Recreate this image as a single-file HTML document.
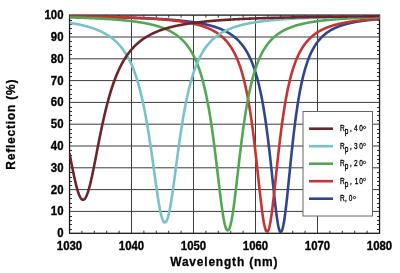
<!DOCTYPE html>
<html><head><meta charset="utf-8"><style>
html,body{margin:0;padding:0;background:#fff;width:400px;height:273px;overflow:hidden}
svg{display:block;will-change:transform}
.tk{font-family:"Liberation Sans",sans-serif;font-weight:bold;font-size:12.1px;fill:#000;stroke:#000;stroke-width:0.35px}
.ax{font-family:"Liberation Sans",sans-serif;font-weight:bold;font-size:13.3px;fill:#000;stroke:#000;stroke-width:0.3px;letter-spacing:0.9px}
.lg{font-family:"Liberation Sans",sans-serif;font-size:9.6px;fill:#000;stroke:#000;stroke-width:0.35px;letter-spacing:0px}
</style></head><body>
<svg width="400" height="273" viewBox="0 0 400 273">
<defs><clipPath id="clip"><rect x="69.5" y="12.2" width="310.6" height="221.0"/></clipPath></defs>
<line x1="69.5" y1="211.40" x2="379.5" y2="211.40" stroke="#3c3c3c" stroke-width="1.0"/>
<line x1="69.5" y1="189.60" x2="379.5" y2="189.60" stroke="#3c3c3c" stroke-width="1.0"/>
<line x1="69.5" y1="167.80" x2="379.5" y2="167.80" stroke="#3c3c3c" stroke-width="1.0"/>
<line x1="69.5" y1="146.00" x2="379.5" y2="146.00" stroke="#3c3c3c" stroke-width="1.0"/>
<line x1="69.5" y1="124.20" x2="379.5" y2="124.20" stroke="#3c3c3c" stroke-width="1.0"/>
<line x1="69.5" y1="102.40" x2="379.5" y2="102.40" stroke="#3c3c3c" stroke-width="1.0"/>
<line x1="69.5" y1="80.60" x2="379.5" y2="80.60" stroke="#3c3c3c" stroke-width="1.0"/>
<line x1="69.5" y1="58.80" x2="379.5" y2="58.80" stroke="#3c3c3c" stroke-width="1.0"/>
<line x1="69.5" y1="37.00" x2="379.5" y2="37.00" stroke="#3c3c3c" stroke-width="1.0"/>
<line x1="131.50" y1="15.2" x2="131.50" y2="233.2" stroke="#3c3c3c" stroke-width="1.0"/>
<line x1="193.50" y1="15.2" x2="193.50" y2="233.2" stroke="#3c3c3c" stroke-width="1.0"/>
<line x1="255.50" y1="15.2" x2="255.50" y2="233.2" stroke="#3c3c3c" stroke-width="1.0"/>
<line x1="317.50" y1="15.2" x2="317.50" y2="233.2" stroke="#3c3c3c" stroke-width="1.0"/>
<line x1="69.5" y1="229.50" x2="72.0" y2="229.50" stroke="#333" stroke-width="1"/>
<line x1="379.5" y1="229.50" x2="377.0" y2="229.50" stroke="#333" stroke-width="1"/>
<line x1="69.5" y1="224.50" x2="72.0" y2="224.50" stroke="#333" stroke-width="1"/>
<line x1="379.5" y1="224.50" x2="377.0" y2="224.50" stroke="#333" stroke-width="1"/>
<line x1="69.5" y1="220.50" x2="72.0" y2="220.50" stroke="#333" stroke-width="1"/>
<line x1="379.5" y1="220.50" x2="377.0" y2="220.50" stroke="#333" stroke-width="1"/>
<line x1="69.5" y1="216.50" x2="72.0" y2="216.50" stroke="#333" stroke-width="1"/>
<line x1="379.5" y1="216.50" x2="377.0" y2="216.50" stroke="#333" stroke-width="1"/>
<line x1="69.5" y1="207.50" x2="72.0" y2="207.50" stroke="#333" stroke-width="1"/>
<line x1="379.5" y1="207.50" x2="377.0" y2="207.50" stroke="#333" stroke-width="1"/>
<line x1="69.5" y1="203.50" x2="72.0" y2="203.50" stroke="#333" stroke-width="1"/>
<line x1="379.5" y1="203.50" x2="377.0" y2="203.50" stroke="#333" stroke-width="1"/>
<line x1="69.5" y1="198.50" x2="72.0" y2="198.50" stroke="#333" stroke-width="1"/>
<line x1="379.5" y1="198.50" x2="377.0" y2="198.50" stroke="#333" stroke-width="1"/>
<line x1="69.5" y1="194.50" x2="72.0" y2="194.50" stroke="#333" stroke-width="1"/>
<line x1="379.5" y1="194.50" x2="377.0" y2="194.50" stroke="#333" stroke-width="1"/>
<line x1="69.5" y1="185.50" x2="72.0" y2="185.50" stroke="#333" stroke-width="1"/>
<line x1="379.5" y1="185.50" x2="377.0" y2="185.50" stroke="#333" stroke-width="1"/>
<line x1="69.5" y1="181.50" x2="72.0" y2="181.50" stroke="#333" stroke-width="1"/>
<line x1="379.5" y1="181.50" x2="377.0" y2="181.50" stroke="#333" stroke-width="1"/>
<line x1="69.5" y1="177.50" x2="72.0" y2="177.50" stroke="#333" stroke-width="1"/>
<line x1="379.5" y1="177.50" x2="377.0" y2="177.50" stroke="#333" stroke-width="1"/>
<line x1="69.5" y1="172.50" x2="72.0" y2="172.50" stroke="#333" stroke-width="1"/>
<line x1="379.5" y1="172.50" x2="377.0" y2="172.50" stroke="#333" stroke-width="1"/>
<line x1="69.5" y1="163.50" x2="72.0" y2="163.50" stroke="#333" stroke-width="1"/>
<line x1="379.5" y1="163.50" x2="377.0" y2="163.50" stroke="#333" stroke-width="1"/>
<line x1="69.5" y1="159.50" x2="72.0" y2="159.50" stroke="#333" stroke-width="1"/>
<line x1="379.5" y1="159.50" x2="377.0" y2="159.50" stroke="#333" stroke-width="1"/>
<line x1="69.5" y1="155.50" x2="72.0" y2="155.50" stroke="#333" stroke-width="1"/>
<line x1="379.5" y1="155.50" x2="377.0" y2="155.50" stroke="#333" stroke-width="1"/>
<line x1="69.5" y1="150.50" x2="72.0" y2="150.50" stroke="#333" stroke-width="1"/>
<line x1="379.5" y1="150.50" x2="377.0" y2="150.50" stroke="#333" stroke-width="1"/>
<line x1="69.5" y1="142.50" x2="72.0" y2="142.50" stroke="#333" stroke-width="1"/>
<line x1="379.5" y1="142.50" x2="377.0" y2="142.50" stroke="#333" stroke-width="1"/>
<line x1="69.5" y1="137.50" x2="72.0" y2="137.50" stroke="#333" stroke-width="1"/>
<line x1="379.5" y1="137.50" x2="377.0" y2="137.50" stroke="#333" stroke-width="1"/>
<line x1="69.5" y1="133.50" x2="72.0" y2="133.50" stroke="#333" stroke-width="1"/>
<line x1="379.5" y1="133.50" x2="377.0" y2="133.50" stroke="#333" stroke-width="1"/>
<line x1="69.5" y1="129.50" x2="72.0" y2="129.50" stroke="#333" stroke-width="1"/>
<line x1="379.5" y1="129.50" x2="377.0" y2="129.50" stroke="#333" stroke-width="1"/>
<line x1="69.5" y1="120.50" x2="72.0" y2="120.50" stroke="#333" stroke-width="1"/>
<line x1="379.5" y1="120.50" x2="377.0" y2="120.50" stroke="#333" stroke-width="1"/>
<line x1="69.5" y1="115.50" x2="72.0" y2="115.50" stroke="#333" stroke-width="1"/>
<line x1="379.5" y1="115.50" x2="377.0" y2="115.50" stroke="#333" stroke-width="1"/>
<line x1="69.5" y1="111.50" x2="72.0" y2="111.50" stroke="#333" stroke-width="1"/>
<line x1="379.5" y1="111.50" x2="377.0" y2="111.50" stroke="#333" stroke-width="1"/>
<line x1="69.5" y1="107.50" x2="72.0" y2="107.50" stroke="#333" stroke-width="1"/>
<line x1="379.5" y1="107.50" x2="377.0" y2="107.50" stroke="#333" stroke-width="1"/>
<line x1="69.5" y1="98.50" x2="72.0" y2="98.50" stroke="#333" stroke-width="1"/>
<line x1="379.5" y1="98.50" x2="377.0" y2="98.50" stroke="#333" stroke-width="1"/>
<line x1="69.5" y1="94.50" x2="72.0" y2="94.50" stroke="#333" stroke-width="1"/>
<line x1="379.5" y1="94.50" x2="377.0" y2="94.50" stroke="#333" stroke-width="1"/>
<line x1="69.5" y1="89.50" x2="72.0" y2="89.50" stroke="#333" stroke-width="1"/>
<line x1="379.5" y1="89.50" x2="377.0" y2="89.50" stroke="#333" stroke-width="1"/>
<line x1="69.5" y1="85.50" x2="72.0" y2="85.50" stroke="#333" stroke-width="1"/>
<line x1="379.5" y1="85.50" x2="377.0" y2="85.50" stroke="#333" stroke-width="1"/>
<line x1="69.5" y1="76.50" x2="72.0" y2="76.50" stroke="#333" stroke-width="1"/>
<line x1="379.5" y1="76.50" x2="377.0" y2="76.50" stroke="#333" stroke-width="1"/>
<line x1="69.5" y1="72.50" x2="72.0" y2="72.50" stroke="#333" stroke-width="1"/>
<line x1="379.5" y1="72.50" x2="377.0" y2="72.50" stroke="#333" stroke-width="1"/>
<line x1="69.5" y1="68.50" x2="72.0" y2="68.50" stroke="#333" stroke-width="1"/>
<line x1="379.5" y1="68.50" x2="377.0" y2="68.50" stroke="#333" stroke-width="1"/>
<line x1="69.5" y1="63.50" x2="72.0" y2="63.50" stroke="#333" stroke-width="1"/>
<line x1="379.5" y1="63.50" x2="377.0" y2="63.50" stroke="#333" stroke-width="1"/>
<line x1="69.5" y1="54.50" x2="72.0" y2="54.50" stroke="#333" stroke-width="1"/>
<line x1="379.5" y1="54.50" x2="377.0" y2="54.50" stroke="#333" stroke-width="1"/>
<line x1="69.5" y1="50.50" x2="72.0" y2="50.50" stroke="#333" stroke-width="1"/>
<line x1="379.5" y1="50.50" x2="377.0" y2="50.50" stroke="#333" stroke-width="1"/>
<line x1="69.5" y1="46.50" x2="72.0" y2="46.50" stroke="#333" stroke-width="1"/>
<line x1="379.5" y1="46.50" x2="377.0" y2="46.50" stroke="#333" stroke-width="1"/>
<line x1="69.5" y1="41.50" x2="72.0" y2="41.50" stroke="#333" stroke-width="1"/>
<line x1="379.5" y1="41.50" x2="377.0" y2="41.50" stroke="#333" stroke-width="1"/>
<line x1="69.5" y1="33.50" x2="72.0" y2="33.50" stroke="#333" stroke-width="1"/>
<line x1="379.5" y1="33.50" x2="377.0" y2="33.50" stroke="#333" stroke-width="1"/>
<line x1="69.5" y1="28.50" x2="72.0" y2="28.50" stroke="#333" stroke-width="1"/>
<line x1="379.5" y1="28.50" x2="377.0" y2="28.50" stroke="#333" stroke-width="1"/>
<line x1="69.5" y1="24.50" x2="72.0" y2="24.50" stroke="#333" stroke-width="1"/>
<line x1="379.5" y1="24.50" x2="377.0" y2="24.50" stroke="#333" stroke-width="1"/>
<line x1="69.5" y1="20.50" x2="72.0" y2="20.50" stroke="#333" stroke-width="1"/>
<line x1="379.5" y1="20.50" x2="377.0" y2="20.50" stroke="#333" stroke-width="1"/>
<line x1="81.90" y1="233.2" x2="81.90" y2="230.7" stroke="#333" stroke-width="1"/>
<line x1="81.90" y1="15.2" x2="81.90" y2="17.7" stroke="#333" stroke-width="1"/>
<line x1="94.30" y1="233.2" x2="94.30" y2="230.7" stroke="#333" stroke-width="1"/>
<line x1="94.30" y1="15.2" x2="94.30" y2="17.7" stroke="#333" stroke-width="1"/>
<line x1="106.70" y1="233.2" x2="106.70" y2="230.7" stroke="#333" stroke-width="1"/>
<line x1="106.70" y1="15.2" x2="106.70" y2="17.7" stroke="#333" stroke-width="1"/>
<line x1="119.10" y1="233.2" x2="119.10" y2="230.7" stroke="#333" stroke-width="1"/>
<line x1="119.10" y1="15.2" x2="119.10" y2="17.7" stroke="#333" stroke-width="1"/>
<line x1="143.90" y1="233.2" x2="143.90" y2="230.7" stroke="#333" stroke-width="1"/>
<line x1="143.90" y1="15.2" x2="143.90" y2="17.7" stroke="#333" stroke-width="1"/>
<line x1="156.30" y1="233.2" x2="156.30" y2="230.7" stroke="#333" stroke-width="1"/>
<line x1="156.30" y1="15.2" x2="156.30" y2="17.7" stroke="#333" stroke-width="1"/>
<line x1="168.70" y1="233.2" x2="168.70" y2="230.7" stroke="#333" stroke-width="1"/>
<line x1="168.70" y1="15.2" x2="168.70" y2="17.7" stroke="#333" stroke-width="1"/>
<line x1="181.10" y1="233.2" x2="181.10" y2="230.7" stroke="#333" stroke-width="1"/>
<line x1="181.10" y1="15.2" x2="181.10" y2="17.7" stroke="#333" stroke-width="1"/>
<line x1="205.90" y1="233.2" x2="205.90" y2="230.7" stroke="#333" stroke-width="1"/>
<line x1="205.90" y1="15.2" x2="205.90" y2="17.7" stroke="#333" stroke-width="1"/>
<line x1="218.30" y1="233.2" x2="218.30" y2="230.7" stroke="#333" stroke-width="1"/>
<line x1="218.30" y1="15.2" x2="218.30" y2="17.7" stroke="#333" stroke-width="1"/>
<line x1="230.70" y1="233.2" x2="230.70" y2="230.7" stroke="#333" stroke-width="1"/>
<line x1="230.70" y1="15.2" x2="230.70" y2="17.7" stroke="#333" stroke-width="1"/>
<line x1="243.10" y1="233.2" x2="243.10" y2="230.7" stroke="#333" stroke-width="1"/>
<line x1="243.10" y1="15.2" x2="243.10" y2="17.7" stroke="#333" stroke-width="1"/>
<line x1="267.90" y1="233.2" x2="267.90" y2="230.7" stroke="#333" stroke-width="1"/>
<line x1="267.90" y1="15.2" x2="267.90" y2="17.7" stroke="#333" stroke-width="1"/>
<line x1="280.30" y1="233.2" x2="280.30" y2="230.7" stroke="#333" stroke-width="1"/>
<line x1="280.30" y1="15.2" x2="280.30" y2="17.7" stroke="#333" stroke-width="1"/>
<line x1="292.70" y1="233.2" x2="292.70" y2="230.7" stroke="#333" stroke-width="1"/>
<line x1="292.70" y1="15.2" x2="292.70" y2="17.7" stroke="#333" stroke-width="1"/>
<line x1="305.10" y1="233.2" x2="305.10" y2="230.7" stroke="#333" stroke-width="1"/>
<line x1="305.10" y1="15.2" x2="305.10" y2="17.7" stroke="#333" stroke-width="1"/>
<line x1="329.90" y1="233.2" x2="329.90" y2="230.7" stroke="#333" stroke-width="1"/>
<line x1="329.90" y1="15.2" x2="329.90" y2="17.7" stroke="#333" stroke-width="1"/>
<line x1="342.30" y1="233.2" x2="342.30" y2="230.7" stroke="#333" stroke-width="1"/>
<line x1="342.30" y1="15.2" x2="342.30" y2="17.7" stroke="#333" stroke-width="1"/>
<line x1="354.70" y1="233.2" x2="354.70" y2="230.7" stroke="#333" stroke-width="1"/>
<line x1="354.70" y1="15.2" x2="354.70" y2="17.7" stroke="#333" stroke-width="1"/>
<line x1="367.10" y1="233.2" x2="367.10" y2="230.7" stroke="#333" stroke-width="1"/>
<line x1="367.10" y1="15.2" x2="367.10" y2="17.7" stroke="#333" stroke-width="1"/>
<rect x="69.55" y="15.1" width="310.0" height="218.20000000000002" fill="none" stroke="#1a1a1a" stroke-width="1.3"/>
<g clip-path="url(#clip)"><path d="M69.50 16.52 L69.94 16.53 L70.39 16.53 L70.83 16.54 L71.27 16.54 L71.71 16.55 L72.16 16.55 L72.60 16.56 L73.04 16.57 L73.49 16.57 L73.93 16.58 L74.37 16.58 L74.81 16.59 L75.26 16.59 L75.70 16.60 L76.14 16.61 L76.59 16.61 L77.03 16.62 L77.47 16.62 L77.91 16.63 L78.36 16.63 L78.80 16.64 L79.24 16.65 L79.69 16.65 L80.13 16.66 L80.57 16.66 L81.01 16.67 L81.46 16.68 L81.90 16.68 L82.34 16.69 L82.79 16.70 L83.23 16.70 L83.67 16.71 L84.11 16.72 L84.56 16.72 L85.00 16.73 L85.44 16.74 L85.89 16.74 L86.33 16.75 L86.77 16.76 L87.21 16.76 L87.66 16.77 L88.10 16.78 L88.54 16.78 L88.99 16.79 L89.43 16.80 L89.87 16.80 L90.31 16.81 L90.76 16.82 L91.20 16.82 L91.64 16.83 L92.09 16.84 L92.53 16.85 L92.97 16.85 L93.41 16.86 L93.86 16.87 L94.30 16.88 L94.74 16.88 L95.19 16.89 L95.63 16.90 L96.07 16.91 L96.51 16.91 L96.96 16.92 L97.40 16.93 L97.84 16.94 L98.29 16.95 L98.73 16.95 L99.17 16.96 L99.61 16.97 L100.06 16.98 L100.50 16.99 L100.94 17.00 L101.39 17.00 L101.83 17.01 L102.27 17.02 L102.71 17.03 L103.16 17.04 L103.60 17.05 L104.04 17.06 L104.49 17.06 L104.93 17.07 L105.37 17.08 L105.81 17.09 L106.26 17.10 L106.70 17.11 L107.14 17.12 L107.59 17.13 L108.03 17.14 L108.47 17.15 L108.91 17.16 L109.36 17.17 L109.80 17.18 L110.24 17.19 L110.69 17.20 L111.13 17.21 L111.57 17.22 L112.01 17.23 L112.46 17.24 L112.90 17.25 L113.34 17.26 L113.79 17.27 L114.23 17.28 L114.67 17.29 L115.11 17.30 L115.56 17.31 L116.00 17.32 L116.44 17.33 L116.89 17.34 L117.33 17.35 L117.77 17.36 L118.21 17.37 L118.66 17.39 L119.10 17.40 L119.54 17.41 L119.99 17.42 L120.43 17.43 L120.87 17.44 L121.31 17.45 L121.76 17.47 L122.20 17.48 L122.64 17.49 L123.09 17.50 L123.53 17.51 L123.97 17.53 L124.41 17.54 L124.86 17.55 L125.30 17.57 L125.74 17.58 L126.19 17.59 L126.63 17.60 L127.07 17.62 L127.51 17.63 L127.96 17.64 L128.40 17.66 L128.84 17.67 L129.29 17.68 L129.73 17.70 L130.17 17.71 L130.61 17.73 L131.06 17.74 L131.50 17.75 L131.94 17.77 L132.39 17.78 L132.83 17.80 L133.27 17.81 L133.71 17.83 L134.16 17.84 L134.60 17.86 L135.04 17.87 L135.49 17.89 L135.93 17.90 L136.37 17.92 L136.81 17.94 L137.26 17.95 L137.70 17.97 L138.14 17.98 L138.59 18.00 L139.03 18.02 L139.47 18.03 L139.91 18.05 L140.36 18.07 L140.80 18.08 L141.24 18.10 L141.69 18.12 L142.13 18.14 L142.57 18.15 L143.01 18.17 L143.46 18.19 L143.90 18.21 L144.34 18.23 L144.79 18.25 L145.23 18.26 L145.67 18.28 L146.11 18.30 L146.56 18.32 L147.00 18.34 L147.44 18.36 L147.89 18.38 L148.33 18.40 L148.77 18.42 L149.21 18.44 L149.66 18.46 L150.10 18.48 L150.54 18.50 L150.99 18.53 L151.43 18.55 L151.87 18.57 L152.31 18.59 L152.76 18.61 L153.20 18.63 L153.64 18.66 L154.09 18.68 L154.53 18.70 L154.97 18.73 L155.41 18.75 L155.86 18.77 L156.30 18.80 L156.74 18.82 L157.19 18.85 L157.63 18.87 L158.07 18.90 L158.51 18.92 L158.96 18.95 L159.40 18.97 L159.84 19.00 L160.29 19.02 L160.73 19.05 L161.17 19.08 L161.61 19.10 L162.06 19.13 L162.50 19.16 L162.94 19.19 L163.39 19.22 L163.83 19.24 L164.27 19.27 L164.71 19.30 L165.16 19.33 L165.60 19.36 L166.04 19.39 L166.49 19.42 L166.93 19.45 L167.37 19.48 L167.81 19.52 L168.26 19.55 L168.70 19.58 L169.14 19.61 L169.59 19.65 L170.03 19.68 L170.47 19.71 L170.91 19.75 L171.36 19.78 L171.80 19.82 L172.24 19.85 L172.69 19.89 L173.13 19.92 L173.57 19.96 L174.01 20.00 L174.46 20.03 L174.90 20.07 L175.34 20.11 L175.79 20.15 L176.23 20.19 L176.67 20.23 L177.11 20.27 L177.56 20.31 L178.00 20.35 L178.44 20.39 L178.89 20.43 L179.33 20.48 L179.77 20.52 L180.21 20.56 L180.66 20.61 L181.10 20.65 L181.54 20.70 L181.99 20.74 L182.43 20.79 L182.87 20.84 L183.31 20.89 L183.76 20.93 L184.20 20.98 L184.64 21.03 L185.09 21.08 L185.53 21.14 L185.97 21.19 L186.41 21.24 L186.86 21.29 L187.30 21.35 L187.74 21.40 L188.19 21.46 L188.63 21.51 L189.07 21.57 L189.51 21.63 L189.96 21.68 L190.40 21.74 L190.84 21.80 L191.29 21.86 L191.73 21.93 L192.17 21.99 L192.61 22.05 L193.06 22.12 L193.50 22.18 L193.94 22.25 L194.39 22.31 L194.83 22.38 L195.27 22.45 L195.71 22.52 L196.16 22.59 L196.60 22.66 L197.04 22.74 L197.49 22.81 L197.93 22.89 L198.37 22.96 L198.81 23.04 L199.26 23.12 L199.70 23.20 L200.14 23.28 L200.59 23.36 L201.03 23.45 L201.47 23.53 L201.91 23.62 L202.36 23.70 L202.80 23.79 L203.24 23.88 L203.69 23.98 L204.13 24.07 L204.57 24.16 L205.01 24.26 L205.46 24.36 L205.90 24.46 L206.34 24.56 L206.79 24.66 L207.23 24.77 L207.67 24.87 L208.11 24.98 L208.56 25.09 L209.00 25.20 L209.44 25.31 L209.89 25.43 L210.33 25.55 L210.77 25.67 L211.21 25.79 L211.66 25.91 L212.10 26.04 L212.54 26.17 L212.99 26.30 L213.43 26.43 L213.87 26.57 L214.31 26.70 L214.76 26.84 L215.20 26.99 L215.64 27.13 L216.09 27.28 L216.53 27.43 L216.97 27.58 L217.41 27.74 L217.86 27.90 L218.30 28.06 L218.74 28.23 L219.19 28.40 L219.63 28.57 L220.07 28.75 L220.51 28.93 L220.96 29.11 L221.40 29.29 L221.84 29.48 L222.29 29.68 L222.73 29.88 L223.17 30.08 L223.61 30.28 L224.06 30.49 L224.50 30.71 L224.94 30.93 L225.39 31.15 L225.83 31.38 L226.27 31.61 L226.71 31.85 L227.16 32.10 L227.60 32.35 L228.04 32.60 L228.49 32.86 L228.93 33.13 L229.37 33.40 L229.81 33.68 L230.26 33.96 L230.70 34.25 L231.14 34.55 L231.59 34.86 L232.03 35.17 L232.47 35.49 L232.91 35.81 L233.36 36.15 L233.80 36.49 L234.24 36.84 L234.69 37.20 L235.13 37.57 L235.57 37.95 L236.01 38.34 L236.46 38.73 L236.90 39.14 L237.34 39.56 L237.79 39.99 L238.23 40.42 L238.67 40.87 L239.11 41.34 L239.56 41.81 L240.00 42.30 L240.44 42.80 L240.89 43.31 L241.33 43.84 L241.77 44.38 L242.21 44.94 L242.66 45.52 L243.10 46.10 L243.54 46.71 L243.99 47.33 L244.43 47.97 L244.87 48.63 L245.31 49.31 L245.76 50.01 L246.20 50.73 L246.64 51.47 L247.09 52.24 L247.53 53.02 L247.97 53.83 L248.41 54.67 L248.86 55.53 L249.30 56.42 L249.74 57.33 L250.19 58.28 L250.63 59.25 L251.07 60.26 L251.51 61.30 L251.96 62.37 L252.40 63.48 L252.84 64.62 L253.29 65.80 L253.73 67.02 L254.17 68.29 L254.61 69.59 L255.06 70.94 L255.50 72.33 L255.94 73.77 L256.39 75.27 L256.83 76.81 L257.27 78.40 L257.71 80.06 L258.16 81.76 L258.60 83.53 L259.04 85.36 L259.49 87.26 L259.93 89.22 L260.37 91.25 L260.81 93.35 L261.26 95.52 L261.70 97.77 L262.14 100.10 L262.59 102.50 L263.03 104.99 L263.47 107.57 L263.91 110.23 L264.36 112.98 L264.80 115.82 L265.24 118.75 L265.69 121.78 L266.13 124.90 L266.57 128.12 L267.01 131.43 L267.46 134.83 L267.90 138.33 L268.34 141.92 L268.79 145.60 L269.23 149.36 L269.67 153.21 L270.11 157.13 L270.56 161.12 L271.00 165.17 L271.44 169.27 L271.89 173.41 L272.33 177.58 L272.77 181.75 L273.21 185.92 L273.66 190.07 L274.10 194.17 L274.54 198.21 L274.99 202.15 L275.43 205.98 L275.87 209.66 L276.31 213.17 L276.76 216.47 L277.20 219.55 L277.64 222.35 L278.09 224.87 L278.53 227.06 L278.97 228.89 L279.41 230.34 L279.86 231.38 L280.30 231.98 L280.74 232.09 L281.19 231.83 L281.63 231.20 L282.07 230.21 L282.51 228.85 L282.96 227.13 L283.40 225.07 L283.84 222.67 L284.29 219.96 L284.73 216.95 L285.17 213.69 L285.61 210.18 L286.06 206.47 L286.50 202.57 L286.94 198.52 L287.39 194.35 L287.83 190.08 L288.27 185.74 L288.71 181.35 L289.16 176.93 L289.60 172.51 L290.04 168.11 L290.49 163.73 L290.93 159.40 L291.37 155.13 L291.81 150.92 L292.26 146.80 L292.70 142.76 L293.14 138.81 L293.59 134.97 L294.03 131.22 L294.47 127.57 L294.91 124.04 L295.36 120.61 L295.80 117.28 L296.24 114.07 L296.69 110.96 L297.13 107.95 L297.57 105.05 L298.01 102.25 L298.46 99.54 L298.90 96.94 L299.34 94.42 L299.79 92.00 L300.23 89.67 L300.67 87.42 L301.11 85.25 L301.56 83.16 L302.00 81.15 L302.44 79.22 L302.89 77.35 L303.33 75.56 L303.77 73.83 L304.21 72.16 L304.66 70.55 L305.10 69.01 L305.54 67.51 L305.99 66.08 L306.43 64.69 L306.87 63.36 L307.31 62.07 L307.76 60.83 L308.20 59.63 L308.64 58.47 L309.09 57.35 L309.53 56.28 L309.97 55.24 L310.41 54.23 L310.86 53.26 L311.30 52.32 L311.74 51.42 L312.19 50.54 L312.63 49.69 L313.07 48.87 L313.51 48.08 L313.96 47.32 L314.40 46.57 L314.84 45.85 L315.29 45.16 L315.73 44.48 L316.17 43.83 L316.61 43.20 L317.06 42.59 L317.50 41.99 L317.94 41.42 L318.39 40.86 L318.83 40.31 L319.27 39.79 L319.71 39.28 L320.16 38.78 L320.60 38.30 L321.04 37.83 L321.49 37.38 L321.93 36.94 L322.37 36.51 L322.81 36.09 L323.26 35.68 L323.70 35.29 L324.14 34.91 L324.59 34.53 L325.03 34.17 L325.47 33.82 L325.91 33.47 L326.36 33.14 L326.80 32.81 L327.24 32.49 L327.69 32.18 L328.13 31.88 L328.57 31.59 L329.01 31.30 L329.46 31.02 L329.90 30.75 L330.34 30.48 L330.79 30.22 L331.23 29.97 L331.67 29.72 L332.11 29.48 L332.56 29.24 L333.00 29.02 L333.44 28.79 L333.89 28.57 L334.33 28.36 L334.77 28.15 L335.21 27.94 L335.66 27.74 L336.10 27.55 L336.54 27.36 L336.99 27.17 L337.43 26.99 L337.87 26.81 L338.31 26.64 L338.76 26.47 L339.20 26.30 L339.64 26.13 L340.09 25.97 L340.53 25.82 L340.97 25.66 L341.41 25.51 L341.86 25.37 L342.30 25.22 L342.74 25.08 L343.19 24.94 L343.63 24.81 L344.07 24.68 L344.51 24.55 L344.96 24.42 L345.40 24.29 L345.84 24.17 L346.29 24.05 L346.73 23.93 L347.17 23.82 L347.61 23.71 L348.06 23.59 L348.50 23.48 L348.94 23.38 L349.39 23.27 L349.83 23.17 L350.27 23.07 L350.71 22.97 L351.16 22.87 L351.60 22.78 L352.04 22.68 L352.49 22.59 L352.93 22.50 L353.37 22.41 L353.81 22.32 L354.26 22.24 L354.70 22.15 L355.14 22.07 L355.59 21.99 L356.03 21.91 L356.47 21.83 L356.91 21.75 L357.36 21.68 L357.80 21.60 L358.24 21.53 L358.69 21.46 L359.13 21.39 L359.57 21.32 L360.01 21.25 L360.46 21.18 L360.90 21.11 L361.34 21.05 L361.79 20.98 L362.23 20.92 L362.67 20.86 L363.11 20.80 L363.56 20.74 L364.00 20.68 L364.44 20.62 L364.89 20.56 L365.33 20.51 L365.77 20.45 L366.21 20.39 L366.66 20.34 L367.10 20.29 L367.54 20.24 L367.99 20.18 L368.43 20.13 L368.87 20.08 L369.31 20.03 L369.76 19.98 L370.20 19.94 L370.64 19.89 L371.09 19.84 L371.53 19.80 L371.97 19.75 L372.41 19.71 L372.86 19.66 L373.30 19.62 L373.74 19.58 L374.19 19.54 L374.63 19.49 L375.07 19.45 L375.51 19.41 L375.96 19.37 L376.40 19.33 L376.84 19.30 L377.29 19.26 L377.73 19.22 L378.17 19.18 L378.61 19.15 L379.06 19.11 L379.50 19.07" fill="none" stroke="#2f458e" stroke-width="2.6" stroke-linejoin="round"/>
<path d="M69.50 16.39 L69.94 16.40 L70.39 16.40 L70.83 16.41 L71.27 16.41 L71.71 16.42 L72.16 16.42 L72.60 16.43 L73.04 16.44 L73.49 16.44 L73.93 16.45 L74.37 16.45 L74.81 16.46 L75.26 16.46 L75.70 16.47 L76.14 16.48 L76.59 16.48 L77.03 16.49 L77.47 16.49 L77.91 16.50 L78.36 16.51 L78.80 16.51 L79.24 16.52 L79.69 16.53 L80.13 16.53 L80.57 16.54 L81.01 16.54 L81.46 16.55 L81.90 16.56 L82.34 16.56 L82.79 16.57 L83.23 16.58 L83.67 16.58 L84.11 16.59 L84.56 16.60 L85.00 16.60 L85.44 16.61 L85.89 16.62 L86.33 16.62 L86.77 16.63 L87.21 16.64 L87.66 16.65 L88.10 16.65 L88.54 16.66 L88.99 16.67 L89.43 16.68 L89.87 16.68 L90.31 16.69 L90.76 16.70 L91.20 16.71 L91.64 16.71 L92.09 16.72 L92.53 16.73 L92.97 16.74 L93.41 16.74 L93.86 16.75 L94.30 16.76 L94.74 16.77 L95.19 16.78 L95.63 16.78 L96.07 16.79 L96.51 16.80 L96.96 16.81 L97.40 16.82 L97.84 16.83 L98.29 16.84 L98.73 16.84 L99.17 16.85 L99.61 16.86 L100.06 16.87 L100.50 16.88 L100.94 16.89 L101.39 16.90 L101.83 16.91 L102.27 16.92 L102.71 16.92 L103.16 16.93 L103.60 16.94 L104.04 16.95 L104.49 16.96 L104.93 16.97 L105.37 16.98 L105.81 16.99 L106.26 17.00 L106.70 17.01 L107.14 17.02 L107.59 17.03 L108.03 17.04 L108.47 17.05 L108.91 17.06 L109.36 17.07 L109.80 17.08 L110.24 17.10 L110.69 17.11 L111.13 17.12 L111.57 17.13 L112.01 17.14 L112.46 17.15 L112.90 17.16 L113.34 17.17 L113.79 17.18 L114.23 17.20 L114.67 17.21 L115.11 17.22 L115.56 17.23 L116.00 17.24 L116.44 17.26 L116.89 17.27 L117.33 17.28 L117.77 17.29 L118.21 17.30 L118.66 17.32 L119.10 17.33 L119.54 17.34 L119.99 17.36 L120.43 17.37 L120.87 17.38 L121.31 17.40 L121.76 17.41 L122.20 17.42 L122.64 17.44 L123.09 17.45 L123.53 17.46 L123.97 17.48 L124.41 17.49 L124.86 17.51 L125.30 17.52 L125.74 17.54 L126.19 17.55 L126.63 17.56 L127.07 17.58 L127.51 17.60 L127.96 17.61 L128.40 17.63 L128.84 17.64 L129.29 17.66 L129.73 17.67 L130.17 17.69 L130.61 17.71 L131.06 17.72 L131.50 17.74 L131.94 17.75 L132.39 17.77 L132.83 17.79 L133.27 17.81 L133.71 17.82 L134.16 17.84 L134.60 17.86 L135.04 17.88 L135.49 17.89 L135.93 17.91 L136.37 17.93 L136.81 17.95 L137.26 17.97 L137.70 17.99 L138.14 18.01 L138.59 18.03 L139.03 18.05 L139.47 18.07 L139.91 18.09 L140.36 18.11 L140.80 18.13 L141.24 18.15 L141.69 18.17 L142.13 18.19 L142.57 18.21 L143.01 18.23 L143.46 18.25 L143.90 18.27 L144.34 18.30 L144.79 18.32 L145.23 18.34 L145.67 18.36 L146.11 18.39 L146.56 18.41 L147.00 18.44 L147.44 18.46 L147.89 18.48 L148.33 18.51 L148.77 18.53 L149.21 18.56 L149.66 18.58 L150.10 18.61 L150.54 18.63 L150.99 18.66 L151.43 18.69 L151.87 18.71 L152.31 18.74 L152.76 18.77 L153.20 18.80 L153.64 18.82 L154.09 18.85 L154.53 18.88 L154.97 18.91 L155.41 18.94 L155.86 18.97 L156.30 19.00 L156.74 19.03 L157.19 19.06 L157.63 19.09 L158.07 19.12 L158.51 19.15 L158.96 19.19 L159.40 19.22 L159.84 19.25 L160.29 19.29 L160.73 19.32 L161.17 19.35 L161.61 19.39 L162.06 19.42 L162.50 19.46 L162.94 19.50 L163.39 19.53 L163.83 19.57 L164.27 19.61 L164.71 19.64 L165.16 19.68 L165.60 19.72 L166.04 19.76 L166.49 19.80 L166.93 19.84 L167.37 19.88 L167.81 19.92 L168.26 19.97 L168.70 20.01 L169.14 20.05 L169.59 20.10 L170.03 20.14 L170.47 20.18 L170.91 20.23 L171.36 20.28 L171.80 20.32 L172.24 20.37 L172.69 20.42 L173.13 20.47 L173.57 20.52 L174.01 20.57 L174.46 20.62 L174.90 20.67 L175.34 20.72 L175.79 20.77 L176.23 20.83 L176.67 20.88 L177.11 20.94 L177.56 20.99 L178.00 21.05 L178.44 21.11 L178.89 21.17 L179.33 21.23 L179.77 21.29 L180.21 21.35 L180.66 21.41 L181.10 21.47 L181.54 21.54 L181.99 21.60 L182.43 21.67 L182.87 21.74 L183.31 21.80 L183.76 21.87 L184.20 21.94 L184.64 22.01 L185.09 22.09 L185.53 22.16 L185.97 22.24 L186.41 22.31 L186.86 22.39 L187.30 22.47 L187.74 22.55 L188.19 22.63 L188.63 22.71 L189.07 22.79 L189.51 22.88 L189.96 22.96 L190.40 23.05 L190.84 23.14 L191.29 23.23 L191.73 23.32 L192.17 23.42 L192.61 23.51 L193.06 23.61 L193.50 23.71 L193.94 23.81 L194.39 23.91 L194.83 24.02 L195.27 24.12 L195.71 24.23 L196.16 24.34 L196.60 24.45 L197.04 24.56 L197.49 24.68 L197.93 24.80 L198.37 24.92 L198.81 25.04 L199.26 25.17 L199.70 25.29 L200.14 25.42 L200.59 25.55 L201.03 25.69 L201.47 25.82 L201.91 25.96 L202.36 26.11 L202.80 26.25 L203.24 26.40 L203.69 26.55 L204.13 26.70 L204.57 26.86 L205.01 27.02 L205.46 27.18 L205.90 27.35 L206.34 27.52 L206.79 27.69 L207.23 27.87 L207.67 28.05 L208.11 28.23 L208.56 28.42 L209.00 28.62 L209.44 28.81 L209.89 29.01 L210.33 29.22 L210.77 29.43 L211.21 29.64 L211.66 29.86 L212.10 30.08 L212.54 30.31 L212.99 30.55 L213.43 30.78 L213.87 31.03 L214.31 31.28 L214.76 31.53 L215.20 31.80 L215.64 32.06 L216.09 32.34 L216.53 32.62 L216.97 32.91 L217.41 33.20 L217.86 33.50 L218.30 33.81 L218.74 34.13 L219.19 34.45 L219.63 34.79 L220.07 35.13 L220.51 35.48 L220.96 35.84 L221.40 36.20 L221.84 36.58 L222.29 36.97 L222.73 37.36 L223.17 37.77 L223.61 38.19 L224.06 38.62 L224.50 39.06 L224.94 39.51 L225.39 39.98 L225.83 40.46 L226.27 40.95 L226.71 41.46 L227.16 41.98 L227.60 42.51 L228.04 43.06 L228.49 43.63 L228.93 44.21 L229.37 44.81 L229.81 45.42 L230.26 46.06 L230.70 46.71 L231.14 47.39 L231.59 48.08 L232.03 48.80 L232.47 49.53 L232.91 50.29 L233.36 51.08 L233.80 51.88 L234.24 52.72 L234.69 53.58 L235.13 54.47 L235.57 55.38 L236.01 56.33 L236.46 57.31 L236.90 58.32 L237.34 59.36 L237.79 60.44 L238.23 61.55 L238.67 62.70 L239.11 63.89 L239.56 65.12 L240.00 66.39 L240.44 67.71 L240.89 69.07 L241.33 70.48 L241.77 71.94 L242.21 73.45 L242.66 75.01 L243.10 76.63 L243.54 78.30 L243.99 80.03 L244.43 81.83 L244.87 83.68 L245.31 85.61 L245.76 87.60 L246.20 89.66 L246.64 91.79 L247.09 94.00 L247.53 96.29 L247.97 98.65 L248.41 101.10 L248.86 103.63 L249.30 106.24 L249.74 108.95 L250.19 111.74 L250.63 114.62 L251.07 117.59 L251.51 120.66 L251.96 123.82 L252.40 127.07 L252.84 130.42 L253.29 133.86 L253.73 137.38 L254.17 141.00 L254.61 144.70 L255.06 148.47 L255.50 152.33 L255.94 156.25 L256.39 160.23 L256.83 164.26 L257.27 168.33 L257.71 172.44 L258.16 176.56 L258.60 180.68 L259.04 184.78 L259.49 188.85 L259.93 192.87 L260.37 196.81 L260.81 200.66 L261.26 204.39 L261.70 207.98 L262.14 211.39 L262.59 214.62 L263.03 217.63 L263.47 220.40 L263.91 222.91 L264.36 225.13 L264.80 227.05 L265.24 228.65 L265.69 229.92 L266.13 230.85 L266.57 231.43 L267.01 231.67 L267.46 231.56 L267.90 231.10 L268.34 230.28 L268.79 229.10 L269.23 227.57 L269.67 225.72 L270.11 223.54 L270.56 221.07 L271.00 218.33 L271.44 215.33 L271.89 212.10 L272.33 208.67 L272.77 205.06 L273.21 201.30 L273.66 197.42 L274.10 193.43 L274.54 189.36 L274.99 185.24 L275.43 181.08 L275.87 176.91 L276.31 172.73 L276.76 168.57 L277.20 164.44 L277.64 160.35 L278.09 156.31 L278.53 152.34 L278.97 148.44 L279.41 144.61 L279.86 140.87 L280.30 137.21 L280.74 133.64 L281.19 130.16 L281.63 126.78 L282.07 123.50 L282.51 120.30 L282.96 117.21 L283.40 114.21 L283.84 111.30 L284.29 108.49 L284.73 105.77 L285.17 103.14 L285.61 100.59 L286.06 98.13 L286.50 95.75 L286.94 93.46 L287.39 91.24 L287.83 89.10 L288.27 87.03 L288.71 85.04 L289.16 83.11 L289.60 81.25 L290.04 79.45 L290.49 77.72 L290.93 76.05 L291.37 74.43 L291.81 72.87 L292.26 71.36 L292.70 69.91 L293.14 68.50 L293.59 67.14 L294.03 65.83 L294.47 64.56 L294.91 63.33 L295.36 62.15 L295.80 61.00 L296.24 59.89 L296.69 58.82 L297.13 57.78 L297.57 56.78 L298.01 55.81 L298.46 54.87 L298.90 53.96 L299.34 53.07 L299.79 52.22 L300.23 51.39 L300.67 50.59 L301.11 49.81 L301.56 49.06 L302.00 48.33 L302.44 47.62 L302.89 46.93 L303.33 46.26 L303.77 45.61 L304.21 44.98 L304.66 44.37 L305.10 43.78 L305.54 43.20 L305.99 42.64 L306.43 42.10 L306.87 41.57 L307.31 41.05 L307.76 40.55 L308.20 40.07 L308.64 39.59 L309.09 39.13 L309.53 38.69 L309.97 38.25 L310.41 37.82 L310.86 37.41 L311.30 37.01 L311.74 36.62 L312.19 36.23 L312.63 35.86 L313.07 35.50 L313.51 35.14 L313.96 34.80 L314.40 34.46 L314.84 34.13 L315.29 33.81 L315.73 33.50 L316.17 33.20 L316.61 32.90 L317.06 32.61 L317.50 32.32 L317.94 32.05 L318.39 31.78 L318.83 31.51 L319.27 31.25 L319.71 31.00 L320.16 30.76 L320.60 30.51 L321.04 30.28 L321.49 30.05 L321.93 29.82 L322.37 29.60 L322.81 29.39 L323.26 29.18 L323.70 28.97 L324.14 28.77 L324.59 28.57 L325.03 28.38 L325.47 28.19 L325.91 28.00 L326.36 27.82 L326.80 27.64 L327.24 27.47 L327.69 27.30 L328.13 27.13 L328.57 26.97 L329.01 26.81 L329.46 26.65 L329.90 26.49 L330.34 26.34 L330.79 26.20 L331.23 26.05 L331.67 25.91 L332.11 25.77 L332.56 25.63 L333.00 25.50 L333.44 25.36 L333.89 25.23 L334.33 25.11 L334.77 24.98 L335.21 24.86 L335.66 24.74 L336.10 24.62 L336.54 24.51 L336.99 24.39 L337.43 24.28 L337.87 24.17 L338.31 24.06 L338.76 23.96 L339.20 23.85 L339.64 23.75 L340.09 23.65 L340.53 23.55 L340.97 23.45 L341.41 23.36 L341.86 23.26 L342.30 23.17 L342.74 23.08 L343.19 22.99 L343.63 22.90 L344.07 22.82 L344.51 22.73 L344.96 22.65 L345.40 22.57 L345.84 22.49 L346.29 22.41 L346.73 22.33 L347.17 22.25 L347.61 22.18 L348.06 22.10 L348.50 22.03 L348.94 21.96 L349.39 21.88 L349.83 21.81 L350.27 21.75 L350.71 21.68 L351.16 21.61 L351.60 21.55 L352.04 21.48 L352.49 21.42 L352.93 21.35 L353.37 21.29 L353.81 21.23 L354.26 21.17 L354.70 21.11 L355.14 21.05 L355.59 21.00 L356.03 20.94 L356.47 20.88 L356.91 20.83 L357.36 20.77 L357.80 20.72 L358.24 20.67 L358.69 20.62 L359.13 20.56 L359.57 20.51 L360.01 20.46 L360.46 20.41 L360.90 20.37 L361.34 20.32 L361.79 20.27 L362.23 20.22 L362.67 20.18 L363.11 20.13 L363.56 20.09 L364.00 20.04 L364.44 20.00 L364.89 19.96 L365.33 19.92 L365.77 19.87 L366.21 19.83 L366.66 19.79 L367.10 19.75 L367.54 19.71 L367.99 19.67 L368.43 19.63 L368.87 19.60 L369.31 19.56 L369.76 19.52 L370.20 19.48 L370.64 19.45 L371.09 19.41 L371.53 19.38 L371.97 19.34 L372.41 19.31 L372.86 19.27 L373.30 19.24 L373.74 19.21 L374.19 19.17 L374.63 19.14 L375.07 19.11 L375.51 19.08 L375.96 19.05 L376.40 19.02 L376.84 18.99 L377.29 18.95 L377.73 18.93 L378.17 18.90 L378.61 18.87 L379.06 18.84 L379.50 18.81" fill="none" stroke="#c83232" stroke-width="2.6" stroke-linejoin="round"/>
<path d="M69.50 17.40 L69.94 17.41 L70.39 17.43 L70.83 17.44 L71.27 17.45 L71.71 17.46 L72.16 17.48 L72.60 17.49 L73.04 17.50 L73.49 17.52 L73.93 17.53 L74.37 17.54 L74.81 17.56 L75.26 17.57 L75.70 17.58 L76.14 17.60 L76.59 17.61 L77.03 17.63 L77.47 17.64 L77.91 17.66 L78.36 17.67 L78.80 17.69 L79.24 17.70 L79.69 17.71 L80.13 17.73 L80.57 17.75 L81.01 17.76 L81.46 17.78 L81.90 17.79 L82.34 17.81 L82.79 17.82 L83.23 17.84 L83.67 17.86 L84.11 17.87 L84.56 17.89 L85.00 17.91 L85.44 17.92 L85.89 17.94 L86.33 17.96 L86.77 17.97 L87.21 17.99 L87.66 18.01 L88.10 18.03 L88.54 18.05 L88.99 18.06 L89.43 18.08 L89.87 18.10 L90.31 18.12 L90.76 18.14 L91.20 18.16 L91.64 18.18 L92.09 18.20 L92.53 18.22 L92.97 18.24 L93.41 18.26 L93.86 18.28 L94.30 18.30 L94.74 18.32 L95.19 18.34 L95.63 18.36 L96.07 18.38 L96.51 18.40 L96.96 18.42 L97.40 18.45 L97.84 18.47 L98.29 18.49 L98.73 18.51 L99.17 18.54 L99.61 18.56 L100.06 18.58 L100.50 18.61 L100.94 18.63 L101.39 18.65 L101.83 18.68 L102.27 18.70 L102.71 18.73 L103.16 18.75 L103.60 18.78 L104.04 18.80 L104.49 18.83 L104.93 18.86 L105.37 18.88 L105.81 18.91 L106.26 18.94 L106.70 18.96 L107.14 18.99 L107.59 19.02 L108.03 19.05 L108.47 19.07 L108.91 19.10 L109.36 19.13 L109.80 19.16 L110.24 19.19 L110.69 19.22 L111.13 19.25 L111.57 19.28 L112.01 19.31 L112.46 19.35 L112.90 19.38 L113.34 19.41 L113.79 19.44 L114.23 19.48 L114.67 19.51 L115.11 19.54 L115.56 19.58 L116.00 19.61 L116.44 19.65 L116.89 19.68 L117.33 19.72 L117.77 19.75 L118.21 19.79 L118.66 19.83 L119.10 19.86 L119.54 19.90 L119.99 19.94 L120.43 19.98 L120.87 20.02 L121.31 20.06 L121.76 20.10 L122.20 20.14 L122.64 20.18 L123.09 20.22 L123.53 20.27 L123.97 20.31 L124.41 20.35 L124.86 20.40 L125.30 20.44 L125.74 20.49 L126.19 20.53 L126.63 20.58 L127.07 20.63 L127.51 20.67 L127.96 20.72 L128.40 20.77 L128.84 20.82 L129.29 20.87 L129.73 20.92 L130.17 20.97 L130.61 21.02 L131.06 21.08 L131.50 21.13 L131.94 21.18 L132.39 21.24 L132.83 21.29 L133.27 21.35 L133.71 21.41 L134.16 21.47 L134.60 21.52 L135.04 21.58 L135.49 21.64 L135.93 21.71 L136.37 21.77 L136.81 21.83 L137.26 21.90 L137.70 21.96 L138.14 22.03 L138.59 22.09 L139.03 22.16 L139.47 22.23 L139.91 22.30 L140.36 22.37 L140.80 22.44 L141.24 22.51 L141.69 22.59 L142.13 22.66 L142.57 22.74 L143.01 22.82 L143.46 22.90 L143.90 22.98 L144.34 23.06 L144.79 23.14 L145.23 23.22 L145.67 23.31 L146.11 23.39 L146.56 23.48 L147.00 23.57 L147.44 23.66 L147.89 23.75 L148.33 23.84 L148.77 23.94 L149.21 24.03 L149.66 24.13 L150.10 24.23 L150.54 24.33 L150.99 24.44 L151.43 24.54 L151.87 24.65 L152.31 24.75 L152.76 24.86 L153.20 24.97 L153.64 25.09 L154.09 25.20 L154.53 25.32 L154.97 25.44 L155.41 25.56 L155.86 25.69 L156.30 25.81 L156.74 25.94 L157.19 26.07 L157.63 26.20 L158.07 26.34 L158.51 26.47 L158.96 26.61 L159.40 26.76 L159.84 26.90 L160.29 27.05 L160.73 27.20 L161.17 27.35 L161.61 27.51 L162.06 27.67 L162.50 27.83 L162.94 28.00 L163.39 28.17 L163.83 28.34 L164.27 28.51 L164.71 28.69 L165.16 28.87 L165.60 29.06 L166.04 29.25 L166.49 29.44 L166.93 29.64 L167.37 29.84 L167.81 30.04 L168.26 30.25 L168.70 30.47 L169.14 30.69 L169.59 30.91 L170.03 31.14 L170.47 31.37 L170.91 31.61 L171.36 31.85 L171.80 32.10 L172.24 32.35 L172.69 32.61 L173.13 32.87 L173.57 33.14 L174.01 33.42 L174.46 33.70 L174.90 33.99 L175.34 34.28 L175.79 34.58 L176.23 34.89 L176.67 35.21 L177.11 35.53 L177.56 35.86 L178.00 36.20 L178.44 36.55 L178.89 36.90 L179.33 37.26 L179.77 37.64 L180.21 38.02 L180.66 38.41 L181.10 38.81 L181.54 39.22 L181.99 39.64 L182.43 40.07 L182.87 40.51 L183.31 40.97 L183.76 41.43 L184.20 41.91 L184.64 42.40 L185.09 42.90 L185.53 43.41 L185.97 43.94 L186.41 44.49 L186.86 45.04 L187.30 45.62 L187.74 46.20 L188.19 46.81 L188.63 47.43 L189.07 48.07 L189.51 48.73 L189.96 49.40 L190.40 50.09 L190.84 50.81 L191.29 51.54 L191.73 52.30 L192.17 53.08 L192.61 53.88 L193.06 54.70 L193.50 55.55 L193.94 56.42 L194.39 57.32 L194.83 58.25 L195.27 59.21 L195.71 60.19 L196.16 61.20 L196.60 62.25 L197.04 63.33 L197.49 64.44 L197.93 65.59 L198.37 66.77 L198.81 67.99 L199.26 69.25 L199.70 70.54 L200.14 71.88 L200.59 73.27 L201.03 74.69 L201.47 76.16 L201.91 77.69 L202.36 79.25 L202.80 80.87 L203.24 82.55 L203.69 84.27 L204.13 86.06 L204.57 87.89 L205.01 89.79 L205.46 91.75 L205.90 93.78 L206.34 95.87 L206.79 98.02 L207.23 100.24 L207.67 102.53 L208.11 104.89 L208.56 107.33 L209.00 109.84 L209.44 112.42 L209.89 115.08 L210.33 117.82 L210.77 120.63 L211.21 123.52 L211.66 126.49 L212.10 129.54 L212.54 132.66 L212.99 135.86 L213.43 139.13 L213.87 142.47 L214.31 145.88 L214.76 149.36 L215.20 152.89 L215.64 156.48 L216.09 160.12 L216.53 163.80 L216.97 167.51 L217.41 171.24 L217.86 174.99 L218.30 178.75 L218.74 182.49 L219.19 186.21 L219.63 189.89 L220.07 193.52 L220.51 197.07 L220.96 200.54 L221.40 203.91 L221.84 207.15 L222.29 210.26 L222.73 213.20 L223.17 215.96 L223.61 218.52 L224.06 220.87 L224.50 222.99 L224.94 224.87 L225.39 226.48 L225.83 227.83 L226.27 228.89 L226.71 229.67 L227.16 230.16 L227.60 230.36 L228.04 230.30 L228.49 229.99 L228.93 229.41 L229.37 228.55 L229.81 227.41 L230.26 226.00 L230.70 224.32 L231.14 222.38 L231.59 220.20 L232.03 217.78 L232.47 215.14 L232.91 212.29 L233.36 209.27 L233.80 206.08 L234.24 202.74 L234.69 199.28 L235.13 195.70 L235.57 192.04 L236.01 188.31 L236.46 184.52 L236.90 180.69 L237.34 176.84 L237.79 172.98 L238.23 169.12 L238.67 165.28 L239.11 161.47 L239.56 157.69 L240.00 153.96 L240.44 150.28 L240.89 146.67 L241.33 143.11 L241.77 139.63 L242.21 136.21 L242.66 132.88 L243.10 129.62 L243.54 126.44 L243.99 123.34 L244.43 120.33 L244.87 117.40 L245.31 114.55 L245.76 111.78 L246.20 109.09 L246.64 106.49 L247.09 103.96 L247.53 101.51 L247.97 99.14 L248.41 96.84 L248.86 94.61 L249.30 92.46 L249.74 90.37 L250.19 88.35 L250.63 86.40 L251.07 84.50 L251.51 82.68 L251.96 80.91 L252.40 79.19 L252.84 77.54 L253.29 75.93 L253.73 74.38 L254.17 72.88 L254.61 71.43 L255.06 70.03 L255.50 68.67 L255.94 67.35 L256.39 66.08 L256.83 64.85 L257.27 63.65 L257.71 62.50 L258.16 61.38 L258.60 60.29 L259.04 59.24 L259.49 58.23 L259.93 57.24 L260.37 56.28 L260.81 55.36 L261.26 54.46 L261.70 53.59 L262.14 52.74 L262.59 51.92 L263.03 51.13 L263.47 50.35 L263.91 49.60 L264.36 48.88 L264.80 48.17 L265.24 47.48 L265.69 46.82 L266.13 46.17 L266.57 45.54 L267.01 44.93 L267.46 44.34 L267.90 43.76 L268.34 43.20 L268.79 42.65 L269.23 42.12 L269.67 41.60 L270.11 41.10 L270.56 40.61 L271.00 40.13 L271.44 39.66 L271.89 39.21 L272.33 38.77 L272.77 38.34 L273.21 37.92 L273.66 37.51 L274.10 37.12 L274.54 36.73 L274.99 36.35 L275.43 35.98 L275.87 35.62 L276.31 35.27 L276.76 34.93 L277.20 34.60 L277.64 34.27 L278.09 33.95 L278.53 33.64 L278.97 33.34 L279.41 33.04 L279.86 32.75 L280.30 32.47 L280.74 32.19 L281.19 31.92 L281.63 31.66 L282.07 31.40 L282.51 31.15 L282.96 30.90 L283.40 30.66 L283.84 30.43 L284.29 30.20 L284.73 29.97 L285.17 29.75 L285.61 29.53 L286.06 29.32 L286.50 29.12 L286.94 28.91 L287.39 28.72 L287.83 28.52 L288.27 28.33 L288.71 28.14 L289.16 27.96 L289.60 27.78 L290.04 27.61 L290.49 27.44 L290.93 27.27 L291.37 27.10 L291.81 26.94 L292.26 26.78 L292.70 26.63 L293.14 26.47 L293.59 26.32 L294.03 26.18 L294.47 26.03 L294.91 25.89 L295.36 25.75 L295.80 25.62 L296.24 25.48 L296.69 25.35 L297.13 25.23 L297.57 25.10 L298.01 24.98 L298.46 24.85 L298.90 24.73 L299.34 24.62 L299.79 24.50 L300.23 24.39 L300.67 24.28 L301.11 24.17 L301.56 24.06 L302.00 23.96 L302.44 23.85 L302.89 23.75 L303.33 23.65 L303.77 23.55 L304.21 23.45 L304.66 23.36 L305.10 23.27 L305.54 23.17 L305.99 23.08 L306.43 22.99 L306.87 22.91 L307.31 22.82 L307.76 22.74 L308.20 22.65 L308.64 22.57 L309.09 22.49 L309.53 22.41 L309.97 22.33 L310.41 22.26 L310.86 22.18 L311.30 22.10 L311.74 22.03 L312.19 21.96 L312.63 21.89 L313.07 21.82 L313.51 21.75 L313.96 21.68 L314.40 21.61 L314.84 21.55 L315.29 21.48 L315.73 21.42 L316.17 21.36 L316.61 21.29 L317.06 21.23 L317.50 21.17 L317.94 21.11 L318.39 21.05 L318.83 21.00 L319.27 20.94 L319.71 20.88 L320.16 20.83 L320.60 20.77 L321.04 20.72 L321.49 20.67 L321.93 20.62 L322.37 20.56 L322.81 20.51 L323.26 20.46 L323.70 20.41 L324.14 20.37 L324.59 20.32 L325.03 20.27 L325.47 20.22 L325.91 20.18 L326.36 20.13 L326.80 20.09 L327.24 20.04 L327.69 20.00 L328.13 19.96 L328.57 19.91 L329.01 19.87 L329.46 19.83 L329.90 19.79 L330.34 19.75 L330.79 19.71 L331.23 19.67 L331.67 19.63 L332.11 19.59 L332.56 19.55 L333.00 19.52 L333.44 19.48 L333.89 19.44 L334.33 19.41 L334.77 19.37 L335.21 19.34 L335.66 19.30 L336.10 19.27 L336.54 19.23 L336.99 19.20 L337.43 19.17 L337.87 19.13 L338.31 19.10 L338.76 19.07 L339.20 19.04 L339.64 19.01 L340.09 18.98 L340.53 18.95 L340.97 18.92 L341.41 18.89 L341.86 18.86 L342.30 18.83 L342.74 18.80 L343.19 18.77 L343.63 18.74 L344.07 18.72 L344.51 18.69 L344.96 18.66 L345.40 18.64 L345.84 18.61 L346.29 18.58 L346.73 18.56 L347.17 18.53 L347.61 18.51 L348.06 18.48 L348.50 18.46 L348.94 18.43 L349.39 18.41 L349.83 18.38 L350.27 18.36 L350.71 18.34 L351.16 18.31 L351.60 18.29 L352.04 18.27 L352.49 18.25 L352.93 18.22 L353.37 18.20 L353.81 18.18 L354.26 18.16 L354.70 18.14 L355.14 18.12 L355.59 18.10 L356.03 18.08 L356.47 18.05 L356.91 18.03 L357.36 18.01 L357.80 18.00 L358.24 17.98 L358.69 17.96 L359.13 17.94 L359.57 17.92 L360.01 17.90 L360.46 17.88 L360.90 17.86 L361.34 17.84 L361.79 17.83 L362.23 17.81 L362.67 17.79 L363.11 17.77 L363.56 17.76 L364.00 17.74 L364.44 17.72 L364.89 17.71 L365.33 17.69 L365.77 17.67 L366.21 17.66 L366.66 17.64 L367.10 17.62 L367.54 17.61 L367.99 17.59 L368.43 17.58 L368.87 17.56 L369.31 17.55 L369.76 17.53 L370.20 17.52 L370.64 17.50 L371.09 17.49 L371.53 17.47 L371.97 17.46 L372.41 17.44 L372.86 17.43 L373.30 17.42 L373.74 17.40 L374.19 17.39 L374.63 17.37 L375.07 17.36 L375.51 17.35 L375.96 17.33 L376.40 17.32 L376.84 17.31 L377.29 17.30 L377.73 17.28 L378.17 17.27 L378.61 17.26 L379.06 17.24 L379.50 17.23" fill="none" stroke="#52a852" stroke-width="2.6" stroke-linejoin="round"/>
<path d="M69.50 22.85 L69.94 22.92 L70.39 22.99 L70.83 23.06 L71.27 23.13 L71.71 23.20 L72.16 23.28 L72.60 23.35 L73.04 23.43 L73.49 23.50 L73.93 23.58 L74.37 23.66 L74.81 23.74 L75.26 23.82 L75.70 23.90 L76.14 23.99 L76.59 24.07 L77.03 24.16 L77.47 24.24 L77.91 24.33 L78.36 24.42 L78.80 24.51 L79.24 24.60 L79.69 24.70 L80.13 24.79 L80.57 24.89 L81.01 24.99 L81.46 25.08 L81.90 25.19 L82.34 25.29 L82.79 25.39 L83.23 25.50 L83.67 25.60 L84.11 25.71 L84.56 25.82 L85.00 25.93 L85.44 26.05 L85.89 26.16 L86.33 26.28 L86.77 26.40 L87.21 26.52 L87.66 26.64 L88.10 26.77 L88.54 26.90 L88.99 27.02 L89.43 27.16 L89.87 27.29 L90.31 27.42 L90.76 27.56 L91.20 27.70 L91.64 27.84 L92.09 27.99 L92.53 28.14 L92.97 28.29 L93.41 28.44 L93.86 28.59 L94.30 28.75 L94.74 28.91 L95.19 29.07 L95.63 29.24 L96.07 29.41 L96.51 29.58 L96.96 29.76 L97.40 29.93 L97.84 30.11 L98.29 30.30 L98.73 30.49 L99.17 30.68 L99.61 30.87 L100.06 31.07 L100.50 31.27 L100.94 31.48 L101.39 31.69 L101.83 31.90 L102.27 32.12 L102.71 32.34 L103.16 32.57 L103.60 32.80 L104.04 33.03 L104.49 33.27 L104.93 33.52 L105.37 33.77 L105.81 34.02 L106.26 34.28 L106.70 34.54 L107.14 34.81 L107.59 35.09 L108.03 35.37 L108.47 35.66 L108.91 35.95 L109.36 36.25 L109.80 36.55 L110.24 36.86 L110.69 37.18 L111.13 37.51 L111.57 37.84 L112.01 38.18 L112.46 38.52 L112.90 38.87 L113.34 39.24 L113.79 39.61 L114.23 39.98 L114.67 40.37 L115.11 40.76 L115.56 41.17 L116.00 41.58 L116.44 42.00 L116.89 42.43 L117.33 42.87 L117.77 43.33 L118.21 43.79 L118.66 44.26 L119.10 44.75 L119.54 45.24 L119.99 45.75 L120.43 46.27 L120.87 46.80 L121.31 47.35 L121.76 47.91 L122.20 48.48 L122.64 49.07 L123.09 49.67 L123.53 50.29 L123.97 50.92 L124.41 51.57 L124.86 52.23 L125.30 52.92 L125.74 53.62 L126.19 54.33 L126.63 55.07 L127.07 55.83 L127.51 56.60 L127.96 57.40 L128.40 58.22 L128.84 59.05 L129.29 59.92 L129.73 60.80 L130.17 61.71 L130.61 62.64 L131.06 63.60 L131.50 64.59 L131.94 65.60 L132.39 66.64 L132.83 67.71 L133.27 68.81 L133.71 69.94 L134.16 71.11 L134.60 72.30 L135.04 73.53 L135.49 74.79 L135.93 76.09 L136.37 77.43 L136.81 78.80 L137.26 80.22 L137.70 81.67 L138.14 83.16 L138.59 84.70 L139.03 86.28 L139.47 87.91 L139.91 89.58 L140.36 91.30 L140.80 93.06 L141.24 94.88 L141.69 96.75 L142.13 98.67 L142.57 100.64 L143.01 102.66 L143.46 104.74 L143.90 106.88 L144.34 109.07 L144.79 111.32 L145.23 113.63 L145.67 115.99 L146.11 118.42 L146.56 120.90 L147.00 123.44 L147.44 126.04 L147.89 128.70 L148.33 131.41 L148.77 134.18 L149.21 137.00 L149.66 139.88 L150.10 142.81 L150.54 145.78 L150.99 148.80 L151.43 151.86 L151.87 154.96 L152.31 158.09 L152.76 161.25 L153.20 164.43 L153.64 167.62 L154.09 170.83 L154.53 174.03 L154.97 177.22 L155.41 180.39 L155.86 183.54 L156.30 186.65 L156.74 189.71 L157.19 192.71 L157.63 195.63 L158.07 198.48 L158.51 201.22 L158.96 203.85 L159.40 206.36 L159.84 208.73 L160.29 210.95 L160.73 213.00 L161.17 214.89 L161.61 216.58 L162.06 218.08 L162.50 219.38 L162.94 220.46 L163.39 221.32 L163.83 221.95 L164.27 222.35 L164.71 222.51 L165.16 222.46 L165.60 222.21 L166.04 221.74 L166.49 221.06 L166.93 220.16 L167.37 219.04 L167.81 217.71 L168.26 216.17 L168.70 214.43 L169.14 212.50 L169.59 210.38 L170.03 208.10 L170.47 205.65 L170.91 203.06 L171.36 200.34 L171.80 197.49 L172.24 194.54 L172.69 191.50 L173.13 188.38 L173.57 185.19 L174.01 181.94 L174.46 178.66 L174.90 175.34 L175.34 172.00 L175.79 168.66 L176.23 165.31 L176.67 161.97 L177.11 158.65 L177.56 155.35 L178.00 152.09 L178.44 148.85 L178.89 145.67 L179.33 142.52 L179.77 139.43 L180.21 136.39 L180.66 133.40 L181.10 130.48 L181.54 127.61 L181.99 124.81 L182.43 122.06 L182.87 119.39 L183.31 116.77 L183.76 114.22 L184.20 111.74 L184.64 109.32 L185.09 106.96 L185.53 104.67 L185.97 102.43 L186.41 100.26 L186.86 98.15 L187.30 96.10 L187.74 94.11 L188.19 92.17 L188.63 90.29 L189.07 88.46 L189.51 86.69 L189.96 84.96 L190.40 83.29 L190.84 81.67 L191.29 80.09 L191.73 78.56 L192.17 77.08 L192.61 75.64 L193.06 74.24 L193.50 72.88 L193.94 71.56 L194.39 70.28 L194.83 69.04 L195.27 67.83 L195.71 66.66 L196.16 65.52 L196.60 64.42 L197.04 63.34 L197.49 62.30 L197.93 61.29 L198.37 60.30 L198.81 59.35 L199.26 58.42 L199.70 57.52 L200.14 56.64 L200.59 55.79 L201.03 54.96 L201.47 54.15 L201.91 53.36 L202.36 52.60 L202.80 51.86 L203.24 51.14 L203.69 50.43 L204.13 49.75 L204.57 49.08 L205.01 48.43 L205.46 47.80 L205.90 47.19 L206.34 46.59 L206.79 46.00 L207.23 45.43 L207.67 44.88 L208.11 44.34 L208.56 43.81 L209.00 43.30 L209.44 42.80 L209.89 42.31 L210.33 41.83 L210.77 41.37 L211.21 40.92 L211.66 40.47 L212.10 40.04 L212.54 39.62 L212.99 39.21 L213.43 38.81 L213.87 38.42 L214.31 38.03 L214.76 37.66 L215.20 37.29 L215.64 36.94 L216.09 36.59 L216.53 36.25 L216.97 35.91 L217.41 35.59 L217.86 35.27 L218.30 34.96 L218.74 34.65 L219.19 34.35 L219.63 34.06 L220.07 33.78 L220.51 33.50 L220.96 33.22 L221.40 32.96 L221.84 32.69 L222.29 32.44 L222.73 32.19 L223.17 31.94 L223.61 31.70 L224.06 31.47 L224.50 31.23 L224.94 31.01 L225.39 30.79 L225.83 30.57 L226.27 30.36 L226.71 30.15 L227.16 29.94 L227.60 29.74 L228.04 29.55 L228.49 29.35 L228.93 29.16 L229.37 28.98 L229.81 28.80 L230.26 28.62 L230.70 28.44 L231.14 28.27 L231.59 28.10 L232.03 27.94 L232.47 27.77 L232.91 27.61 L233.36 27.46 L233.80 27.30 L234.24 27.15 L234.69 27.00 L235.13 26.86 L235.57 26.72 L236.01 26.58 L236.46 26.44 L236.90 26.30 L237.34 26.17 L237.79 26.04 L238.23 25.91 L238.67 25.78 L239.11 25.66 L239.56 25.54 L240.00 25.42 L240.44 25.30 L240.89 25.18 L241.33 25.07 L241.77 24.95 L242.21 24.84 L242.66 24.74 L243.10 24.63 L243.54 24.52 L243.99 24.42 L244.43 24.32 L244.87 24.22 L245.31 24.12 L245.76 24.02 L246.20 23.93 L246.64 23.83 L247.09 23.74 L247.53 23.65 L247.97 23.56 L248.41 23.47 L248.86 23.38 L249.30 23.30 L249.74 23.21 L250.19 23.13 L250.63 23.05 L251.07 22.97 L251.51 22.89 L251.96 22.81 L252.40 22.73 L252.84 22.66 L253.29 22.58 L253.73 22.51 L254.17 22.44 L254.61 22.37 L255.06 22.30 L255.50 22.23 L255.94 22.16 L256.39 22.09 L256.83 22.02 L257.27 21.96 L257.71 21.89 L258.16 21.83 L258.60 21.77 L259.04 21.70 L259.49 21.64 L259.93 21.58 L260.37 21.52 L260.81 21.46 L261.26 21.41 L261.70 21.35 L262.14 21.29 L262.59 21.24 L263.03 21.18 L263.47 21.13 L263.91 21.07 L264.36 21.02 L264.80 20.97 L265.24 20.92 L265.69 20.87 L266.13 20.82 L266.57 20.77 L267.01 20.72 L267.46 20.67 L267.90 20.62 L268.34 20.58 L268.79 20.53 L269.23 20.48 L269.67 20.44 L270.11 20.39 L270.56 20.35 L271.00 20.31 L271.44 20.26 L271.89 20.22 L272.33 20.18 L272.77 20.14 L273.21 20.10 L273.66 20.06 L274.10 20.02 L274.54 19.98 L274.99 19.94 L275.43 19.90 L275.87 19.86 L276.31 19.82 L276.76 19.79 L277.20 19.75 L277.64 19.71 L278.09 19.68 L278.53 19.64 L278.97 19.61 L279.41 19.57 L279.86 19.54 L280.30 19.50 L280.74 19.47 L281.19 19.44 L281.63 19.40 L282.07 19.37 L282.51 19.34 L282.96 19.31 L283.40 19.28 L283.84 19.25 L284.29 19.22 L284.73 19.19 L285.17 19.16 L285.61 19.13 L286.06 19.10 L286.50 19.07 L286.94 19.04 L287.39 19.01 L287.83 18.98 L288.27 18.96 L288.71 18.93 L289.16 18.90 L289.60 18.87 L290.04 18.85 L290.49 18.82 L290.93 18.80 L291.37 18.77 L291.81 18.74 L292.26 18.72 L292.70 18.69 L293.14 18.67 L293.59 18.65 L294.03 18.62 L294.47 18.60 L294.91 18.57 L295.36 18.55 L295.80 18.53 L296.24 18.50 L296.69 18.48 L297.13 18.46 L297.57 18.44 L298.01 18.41 L298.46 18.39 L298.90 18.37 L299.34 18.35 L299.79 18.33 L300.23 18.31 L300.67 18.29 L301.11 18.27 L301.56 18.25 L302.00 18.23 L302.44 18.21 L302.89 18.19 L303.33 18.17 L303.77 18.15 L304.21 18.13 L304.66 18.11 L305.10 18.09 L305.54 18.07 L305.99 18.05 L306.43 18.03 L306.87 18.02 L307.31 18.00 L307.76 17.98 L308.20 17.96 L308.64 17.95 L309.09 17.93 L309.53 17.91 L309.97 17.89 L310.41 17.88 L310.86 17.86 L311.30 17.84 L311.74 17.83 L312.19 17.81 L312.63 17.80 L313.07 17.78 L313.51 17.76 L313.96 17.75 L314.40 17.73 L314.84 17.72 L315.29 17.70 L315.73 17.69 L316.17 17.67 L316.61 17.66 L317.06 17.64 L317.50 17.63 L317.94 17.61 L318.39 17.60 L318.83 17.59 L319.27 17.57 L319.71 17.56 L320.16 17.54 L320.60 17.53 L321.04 17.52 L321.49 17.50 L321.93 17.49 L322.37 17.48 L322.81 17.46 L323.26 17.45 L323.70 17.44 L324.14 17.42 L324.59 17.41 L325.03 17.40 L325.47 17.39 L325.91 17.37 L326.36 17.36 L326.80 17.35 L327.24 17.34 L327.69 17.33 L328.13 17.31 L328.57 17.30 L329.01 17.29 L329.46 17.28 L329.90 17.27 L330.34 17.26 L330.79 17.24 L331.23 17.23 L331.67 17.22 L332.11 17.21 L332.56 17.20 L333.00 17.19 L333.44 17.18 L333.89 17.17 L334.33 17.16 L334.77 17.15 L335.21 17.14 L335.66 17.13 L336.10 17.12 L336.54 17.11 L336.99 17.10 L337.43 17.09 L337.87 17.08 L338.31 17.07 L338.76 17.06 L339.20 17.05 L339.64 17.04 L340.09 17.03 L340.53 17.02 L340.97 17.01 L341.41 17.00 L341.86 16.99 L342.30 16.98 L342.74 16.97 L343.19 16.96 L343.63 16.95 L344.07 16.94 L344.51 16.94 L344.96 16.93 L345.40 16.92 L345.84 16.91 L346.29 16.90 L346.73 16.89 L347.17 16.88 L347.61 16.88 L348.06 16.87 L348.50 16.86 L348.94 16.85 L349.39 16.84 L349.83 16.83 L350.27 16.83 L350.71 16.82 L351.16 16.81 L351.60 16.80 L352.04 16.79 L352.49 16.79 L352.93 16.78 L353.37 16.77 L353.81 16.76 L354.26 16.76 L354.70 16.75 L355.14 16.74 L355.59 16.73 L356.03 16.73 L356.47 16.72 L356.91 16.71 L357.36 16.70 L357.80 16.70 L358.24 16.69 L358.69 16.68 L359.13 16.68 L359.57 16.67 L360.01 16.66 L360.46 16.66 L360.90 16.65 L361.34 16.64 L361.79 16.64 L362.23 16.63 L362.67 16.62 L363.11 16.62 L363.56 16.61 L364.00 16.60 L364.44 16.60 L364.89 16.59 L365.33 16.58 L365.77 16.58 L366.21 16.57 L366.66 16.56 L367.10 16.56 L367.54 16.55 L367.99 16.55 L368.43 16.54 L368.87 16.53 L369.31 16.53 L369.76 16.52 L370.20 16.52 L370.64 16.51 L371.09 16.50 L371.53 16.50 L371.97 16.49 L372.41 16.49 L372.86 16.48 L373.30 16.48 L373.74 16.47 L374.19 16.47 L374.63 16.46 L375.07 16.45 L375.51 16.45 L375.96 16.44 L376.40 16.44 L376.84 16.43 L377.29 16.43 L377.73 16.42 L378.17 16.42 L378.61 16.41 L379.06 16.41 L379.50 16.40" fill="none" stroke="#78c3c7" stroke-width="2.6" stroke-linejoin="round"/>
<path d="M69.50 153.30 L69.94 155.59 L70.39 157.87 L70.83 160.14 L71.27 162.40 L71.71 164.65 L72.16 166.87 L72.60 169.07 L73.04 171.24 L73.49 173.37 L73.93 175.46 L74.37 177.51 L74.81 179.49 L75.26 181.42 L75.70 183.29 L76.14 185.08 L76.59 186.80 L77.03 188.43 L77.47 189.97 L77.91 191.42 L78.36 192.77 L78.80 194.02 L79.24 195.15 L79.69 196.17 L80.13 197.08 L80.57 197.86 L81.01 198.51 L81.46 199.04 L81.90 199.44 L82.34 199.70 L82.79 199.83 L83.23 199.83 L83.67 199.70 L84.11 199.44 L84.56 199.06 L85.00 198.54 L85.44 197.90 L85.89 197.14 L86.33 196.25 L86.77 195.25 L87.21 194.14 L87.66 192.91 L88.10 191.58 L88.54 190.15 L88.99 188.63 L89.43 187.01 L89.87 185.32 L90.31 183.54 L90.76 181.69 L91.20 179.78 L91.64 177.80 L92.09 175.77 L92.53 173.69 L92.97 171.57 L93.41 169.41 L93.86 167.22 L94.30 165.00 L94.74 162.75 L95.19 160.49 L95.63 158.22 L96.07 155.94 L96.51 153.65 L96.96 151.37 L97.40 149.08 L97.84 146.81 L98.29 144.54 L98.73 142.29 L99.17 140.05 L99.61 137.82 L100.06 135.62 L100.50 133.44 L100.94 131.29 L101.39 129.16 L101.83 127.05 L102.27 124.98 L102.71 122.93 L103.16 120.92 L103.60 118.93 L104.04 116.98 L104.49 115.06 L104.93 113.17 L105.37 111.32 L105.81 109.49 L106.26 107.71 L106.70 105.95 L107.14 104.23 L107.59 102.55 L108.03 100.89 L108.47 99.27 L108.91 97.68 L109.36 96.13 L109.80 94.61 L110.24 93.11 L110.69 91.65 L111.13 90.23 L111.57 88.83 L112.01 87.46 L112.46 86.12 L112.90 84.81 L113.34 83.53 L113.79 82.28 L114.23 81.06 L114.67 79.86 L115.11 78.69 L115.56 77.55 L116.00 76.43 L116.44 75.33 L116.89 74.26 L117.33 73.22 L117.77 72.19 L118.21 71.20 L118.66 70.22 L119.10 69.26 L119.54 68.33 L119.99 67.41 L120.43 66.52 L120.87 65.65 L121.31 64.79 L121.76 63.96 L122.20 63.14 L122.64 62.34 L123.09 61.56 L123.53 60.80 L123.97 60.05 L124.41 59.32 L124.86 58.60 L125.30 57.90 L125.74 57.22 L126.19 56.55 L126.63 55.89 L127.07 55.25 L127.51 54.62 L127.96 54.00 L128.40 53.40 L128.84 52.81 L129.29 52.24 L129.73 51.67 L130.17 51.12 L130.61 50.58 L131.06 50.05 L131.50 49.53 L131.94 49.02 L132.39 48.52 L132.83 48.03 L133.27 47.55 L133.71 47.08 L134.16 46.62 L134.60 46.17 L135.04 45.73 L135.49 45.30 L135.93 44.88 L136.37 44.46 L136.81 44.05 L137.26 43.65 L137.70 43.26 L138.14 42.88 L138.59 42.50 L139.03 42.13 L139.47 41.77 L139.91 41.41 L140.36 41.06 L140.80 40.72 L141.24 40.38 L141.69 40.05 L142.13 39.73 L142.57 39.41 L143.01 39.10 L143.46 38.79 L143.90 38.49 L144.34 38.20 L144.79 37.90 L145.23 37.62 L145.67 37.34 L146.11 37.07 L146.56 36.79 L147.00 36.53 L147.44 36.27 L147.89 36.01 L148.33 35.76 L148.77 35.51 L149.21 35.27 L149.66 35.03 L150.10 34.80 L150.54 34.57 L150.99 34.34 L151.43 34.12 L151.87 33.90 L152.31 33.68 L152.76 33.47 L153.20 33.26 L153.64 33.05 L154.09 32.85 L154.53 32.65 L154.97 32.46 L155.41 32.26 L155.86 32.08 L156.30 31.89 L156.74 31.71 L157.19 31.52 L157.63 31.35 L158.07 31.17 L158.51 31.00 L158.96 30.83 L159.40 30.66 L159.84 30.50 L160.29 30.34 L160.73 30.18 L161.17 30.02 L161.61 29.87 L162.06 29.72 L162.50 29.57 L162.94 29.42 L163.39 29.27 L163.83 29.13 L164.27 28.99 L164.71 28.85 L165.16 28.71 L165.60 28.58 L166.04 28.44 L166.49 28.31 L166.93 28.18 L167.37 28.06 L167.81 27.93 L168.26 27.81 L168.70 27.69 L169.14 27.56 L169.59 27.45 L170.03 27.33 L170.47 27.21 L170.91 27.10 L171.36 26.99 L171.80 26.88 L172.24 26.77 L172.69 26.66 L173.13 26.55 L173.57 26.45 L174.01 26.35 L174.46 26.24 L174.90 26.14 L175.34 26.04 L175.79 25.95 L176.23 25.85 L176.67 25.75 L177.11 25.66 L177.56 25.57 L178.00 25.47 L178.44 25.38 L178.89 25.29 L179.33 25.21 L179.77 25.12 L180.21 25.03 L180.66 24.95 L181.10 24.86 L181.54 24.78 L181.99 24.70 L182.43 24.62 L182.87 24.54 L183.31 24.46 L183.76 24.38 L184.20 24.31 L184.64 24.23 L185.09 24.16 L185.53 24.08 L185.97 24.01 L186.41 23.94 L186.86 23.86 L187.30 23.79 L187.74 23.72 L188.19 23.66 L188.63 23.59 L189.07 23.52 L189.51 23.45 L189.96 23.39 L190.40 23.32 L190.84 23.26 L191.29 23.20 L191.73 23.13 L192.17 23.07 L192.61 23.01 L193.06 22.95 L193.50 22.89 L193.94 22.83 L194.39 22.77 L194.83 22.71 L195.27 22.66 L195.71 22.60 L196.16 22.54 L196.60 22.49 L197.04 22.43 L197.49 22.38 L197.93 22.33 L198.37 22.27 L198.81 22.22 L199.26 22.17 L199.70 22.12 L200.14 22.07 L200.59 22.02 L201.03 21.97 L201.47 21.92 L201.91 21.87 L202.36 21.82 L202.80 21.78 L203.24 21.73 L203.69 21.68 L204.13 21.64 L204.57 21.59 L205.01 21.55 L205.46 21.50 L205.90 21.46 L206.34 21.41 L206.79 21.37 L207.23 21.33 L207.67 21.28 L208.11 21.24 L208.56 21.20 L209.00 21.16 L209.44 21.12 L209.89 21.08 L210.33 21.04 L210.77 21.00 L211.21 20.96 L211.66 20.92 L212.10 20.88 L212.54 20.85 L212.99 20.81 L213.43 20.77 L213.87 20.73 L214.31 20.70 L214.76 20.66 L215.20 20.63 L215.64 20.59 L216.09 20.56 L216.53 20.52 L216.97 20.49 L217.41 20.45 L217.86 20.42 L218.30 20.39 L218.74 20.35 L219.19 20.32 L219.63 20.29 L220.07 20.26 L220.51 20.22 L220.96 20.19 L221.40 20.16 L221.84 20.13 L222.29 20.10 L222.73 20.07 L223.17 20.04 L223.61 20.01 L224.06 19.98 L224.50 19.95 L224.94 19.92 L225.39 19.89 L225.83 19.86 L226.27 19.84 L226.71 19.81 L227.16 19.78 L227.60 19.75 L228.04 19.72 L228.49 19.70 L228.93 19.67 L229.37 19.64 L229.81 19.62 L230.26 19.59 L230.70 19.57 L231.14 19.54 L231.59 19.51 L232.03 19.49 L232.47 19.46 L232.91 19.44 L233.36 19.42 L233.80 19.39 L234.24 19.37 L234.69 19.34 L235.13 19.32 L235.57 19.30 L236.01 19.27 L236.46 19.25 L236.90 19.23 L237.34 19.20 L237.79 19.18 L238.23 19.16 L238.67 19.14 L239.11 19.11 L239.56 19.09 L240.00 19.07 L240.44 19.05 L240.89 19.03 L241.33 19.01 L241.77 18.99 L242.21 18.97 L242.66 18.94 L243.10 18.92 L243.54 18.90 L243.99 18.88 L244.43 18.86 L244.87 18.84 L245.31 18.82 L245.76 18.81 L246.20 18.79 L246.64 18.77 L247.09 18.75 L247.53 18.73 L247.97 18.71 L248.41 18.69 L248.86 18.67 L249.30 18.66 L249.74 18.64 L250.19 18.62 L250.63 18.60 L251.07 18.58 L251.51 18.57 L251.96 18.55 L252.40 18.53 L252.84 18.51 L253.29 18.50 L253.73 18.48 L254.17 18.46 L254.61 18.45 L255.06 18.43 L255.50 18.41 L255.94 18.40 L256.39 18.38 L256.83 18.37 L257.27 18.35 L257.71 18.33 L258.16 18.32 L258.60 18.30 L259.04 18.29 L259.49 18.27 L259.93 18.26 L260.37 18.24 L260.81 18.23 L261.26 18.21 L261.70 18.20 L262.14 18.18 L262.59 18.17 L263.03 18.15 L263.47 18.14 L263.91 18.12 L264.36 18.11 L264.80 18.10 L265.24 18.08 L265.69 18.07 L266.13 18.05 L266.57 18.04 L267.01 18.03 L267.46 18.01 L267.90 18.00 L268.34 17.99 L268.79 17.97 L269.23 17.96 L269.67 17.95 L270.11 17.94 L270.56 17.92 L271.00 17.91 L271.44 17.90 L271.89 17.88 L272.33 17.87 L272.77 17.86 L273.21 17.85 L273.66 17.84 L274.10 17.82 L274.54 17.81 L274.99 17.80 L275.43 17.79 L275.87 17.78 L276.31 17.76 L276.76 17.75 L277.20 17.74 L277.64 17.73 L278.09 17.72 L278.53 17.71 L278.97 17.70 L279.41 17.68 L279.86 17.67 L280.30 17.66 L280.74 17.65 L281.19 17.64 L281.63 17.63 L282.07 17.62 L282.51 17.61 L282.96 17.60 L283.40 17.59 L283.84 17.58 L284.29 17.57 L284.73 17.56 L285.17 17.55 L285.61 17.54 L286.06 17.52 L286.50 17.51 L286.94 17.50 L287.39 17.49 L287.83 17.49 L288.27 17.48 L288.71 17.47 L289.16 17.46 L289.60 17.45 L290.04 17.44 L290.49 17.43 L290.93 17.42 L291.37 17.41 L291.81 17.40 L292.26 17.39 L292.70 17.38 L293.14 17.37 L293.59 17.36 L294.03 17.35 L294.47 17.34 L294.91 17.34 L295.36 17.33 L295.80 17.32 L296.24 17.31 L296.69 17.30 L297.13 17.29 L297.57 17.28 L298.01 17.27 L298.46 17.27 L298.90 17.26 L299.34 17.25 L299.79 17.24 L300.23 17.23 L300.67 17.22 L301.11 17.22 L301.56 17.21 L302.00 17.20 L302.44 17.19 L302.89 17.18 L303.33 17.18 L303.77 17.17 L304.21 17.16 L304.66 17.15 L305.10 17.14 L305.54 17.14 L305.99 17.13 L306.43 17.12 L306.87 17.11 L307.31 17.11 L307.76 17.10 L308.20 17.09 L308.64 17.08 L309.09 17.08 L309.53 17.07 L309.97 17.06 L310.41 17.06 L310.86 17.05 L311.30 17.04 L311.74 17.03 L312.19 17.03 L312.63 17.02 L313.07 17.01 L313.51 17.01 L313.96 17.00 L314.40 16.99 L314.84 16.99 L315.29 16.98 L315.73 16.97 L316.17 16.96 L316.61 16.96 L317.06 16.95 L317.50 16.95 L317.94 16.94 L318.39 16.93 L318.83 16.93 L319.27 16.92 L319.71 16.91 L320.16 16.91 L320.60 16.90 L321.04 16.89 L321.49 16.89 L321.93 16.88 L322.37 16.87 L322.81 16.87 L323.26 16.86 L323.70 16.86 L324.14 16.85 L324.59 16.84 L325.03 16.84 L325.47 16.83 L325.91 16.83 L326.36 16.82 L326.80 16.81 L327.24 16.81 L327.69 16.80 L328.13 16.80 L328.57 16.79 L329.01 16.79 L329.46 16.78 L329.90 16.77 L330.34 16.77 L330.79 16.76 L331.23 16.76 L331.67 16.75 L332.11 16.75 L332.56 16.74 L333.00 16.74 L333.44 16.73 L333.89 16.72 L334.33 16.72 L334.77 16.71 L335.21 16.71 L335.66 16.70 L336.10 16.70 L336.54 16.69 L336.99 16.69 L337.43 16.68 L337.87 16.68 L338.31 16.67 L338.76 16.67 L339.20 16.66 L339.64 16.66 L340.09 16.65 L340.53 16.65 L340.97 16.64 L341.41 16.64 L341.86 16.63 L342.30 16.63 L342.74 16.62 L343.19 16.62 L343.63 16.61 L344.07 16.61 L344.51 16.60 L344.96 16.60 L345.40 16.59 L345.84 16.59 L346.29 16.58 L346.73 16.58 L347.17 16.58 L347.61 16.57 L348.06 16.57 L348.50 16.56 L348.94 16.56 L349.39 16.55 L349.83 16.55 L350.27 16.54 L350.71 16.54 L351.16 16.53 L351.60 16.53 L352.04 16.53 L352.49 16.52 L352.93 16.52 L353.37 16.51 L353.81 16.51 L354.26 16.50 L354.70 16.50 L355.14 16.50 L355.59 16.49 L356.03 16.49 L356.47 16.48 L356.91 16.48 L357.36 16.48 L357.80 16.47 L358.24 16.47 L358.69 16.46 L359.13 16.46 L359.57 16.45 L360.01 16.45 L360.46 16.45 L360.90 16.44 L361.34 16.44 L361.79 16.43 L362.23 16.43 L362.67 16.43 L363.11 16.42 L363.56 16.42 L364.00 16.42 L364.44 16.41 L364.89 16.41 L365.33 16.40 L365.77 16.40 L366.21 16.40 L366.66 16.39 L367.10 16.39 L367.54 16.39 L367.99 16.38 L368.43 16.38 L368.87 16.37 L369.31 16.37 L369.76 16.37 L370.20 16.36 L370.64 16.36 L371.09 16.36 L371.53 16.35 L371.97 16.35 L372.41 16.35 L372.86 16.34 L373.30 16.34 L373.74 16.34 L374.19 16.33 L374.63 16.33 L375.07 16.33 L375.51 16.32 L375.96 16.32 L376.40 16.31 L376.84 16.31 L377.29 16.31 L377.73 16.30 L378.17 16.30 L378.61 16.30 L379.06 16.29 L379.50 16.29" fill="none" stroke="#6c262b" stroke-width="2.6" stroke-linejoin="round"/>
</g>
<rect x="303.0" y="111.5" width="69.5" height="104.5" fill="#fff" stroke="#666" stroke-width="1"/>
<line x1="309" y1="128.70" x2="333" y2="128.70" stroke="#6c262b" stroke-width="2.6"/>
<circle cx="364.5" cy="127.50" r="1.15" fill="none" stroke="#000" stroke-width="0.85"/>
<text transform="scale(0.68,1)" class="lg"><tspan x="500.15" y="131.50">R</tspan><tspan x="507.06" y="134.10">p</tspan><tspan x="514.56" y="131.50">,</tspan><tspan x="517.50" y="131.50"> </tspan><tspan x="520.44" y="131.50">4</tspan><tspan x="528.16" y="131.50">0</tspan></text>
<line x1="309" y1="146.20" x2="333" y2="146.20" stroke="#78c3c7" stroke-width="2.6"/>
<circle cx="364.5" cy="144.50" r="1.15" fill="none" stroke="#000" stroke-width="0.85"/>
<text transform="scale(0.68,1)" class="lg"><tspan x="500.15" y="149.00">R</tspan><tspan x="507.06" y="151.60">p</tspan><tspan x="514.56" y="149.00">,</tspan><tspan x="517.50" y="149.00"> </tspan><tspan x="520.44" y="149.00">3</tspan><tspan x="528.16" y="149.00">0</tspan></text>
<line x1="309" y1="163.70" x2="333" y2="163.70" stroke="#52a852" stroke-width="2.6"/>
<circle cx="364.5" cy="162.50" r="1.15" fill="none" stroke="#000" stroke-width="0.85"/>
<text transform="scale(0.68,1)" class="lg"><tspan x="500.15" y="166.50">R</tspan><tspan x="507.06" y="169.10">p</tspan><tspan x="514.56" y="166.50">,</tspan><tspan x="517.50" y="166.50"> </tspan><tspan x="520.44" y="166.50">2</tspan><tspan x="528.16" y="166.50">0</tspan></text>
<line x1="309" y1="181.20" x2="333" y2="181.20" stroke="#c83232" stroke-width="2.6"/>
<circle cx="364.5" cy="179.50" r="1.15" fill="none" stroke="#000" stroke-width="0.85"/>
<text transform="scale(0.68,1)" class="lg"><tspan x="500.15" y="184.00">R</tspan><tspan x="507.06" y="186.60">p</tspan><tspan x="514.56" y="184.00">,</tspan><tspan x="517.50" y="184.00"> </tspan><tspan x="521.62" y="184.00">1</tspan><tspan x="528.16" y="184.00">0</tspan></text>
<line x1="309" y1="198.70" x2="333" y2="198.70" stroke="#2f458e" stroke-width="2.6"/>
<circle cx="354.5" cy="197.50" r="1.15" fill="none" stroke="#000" stroke-width="0.85"/>
<text transform="scale(0.68,1)" class="lg"><tspan x="500.15" y="201.50">R</tspan><tspan x="507.21" y="201.50">,</tspan><tspan x="510.15" y="201.50"> </tspan><tspan x="512.94" y="201.50">0</tspan></text>
<text transform="translate(63.5,237.10) scale(0.94,1)" class="tk" text-anchor="end">0</text>
<text transform="translate(63.5,215.30) scale(0.94,1)" class="tk" text-anchor="end">10</text>
<text transform="translate(63.5,193.50) scale(0.94,1)" class="tk" text-anchor="end">20</text>
<text transform="translate(63.5,171.70) scale(0.94,1)" class="tk" text-anchor="end">30</text>
<text transform="translate(63.5,149.90) scale(0.94,1)" class="tk" text-anchor="end">40</text>
<text transform="translate(63.5,128.10) scale(0.94,1)" class="tk" text-anchor="end">50</text>
<text transform="translate(63.5,106.30) scale(0.94,1)" class="tk" text-anchor="end">60</text>
<text transform="translate(63.5,84.50) scale(0.94,1)" class="tk" text-anchor="end">70</text>
<text transform="translate(63.5,62.70) scale(0.94,1)" class="tk" text-anchor="end">80</text>
<text transform="translate(63.5,40.90) scale(0.94,1)" class="tk" text-anchor="end">90</text>
<text transform="translate(63.5,19.10) scale(0.94,1)" class="tk" text-anchor="end">100</text>
<text transform="translate(69.50,249.8) scale(0.94,1)" class="tk" text-anchor="middle">1030</text>
<text transform="translate(131.50,249.8) scale(0.94,1)" class="tk" text-anchor="middle">1040</text>
<text transform="translate(193.50,249.8) scale(0.94,1)" class="tk" text-anchor="middle">1050</text>
<text transform="translate(255.50,249.8) scale(0.94,1)" class="tk" text-anchor="middle">1060</text>
<text transform="translate(317.50,249.8) scale(0.94,1)" class="tk" text-anchor="middle">1070</text>
<text transform="translate(379.50,249.8) scale(0.94,1)" class="tk" text-anchor="middle">1080</text>
<text transform="translate(224.25,266.2) scale(0.9,1)" class="ax" text-anchor="middle">Wavelength (nm)</text>
<text transform="translate(15.2,124.25) rotate(-90) scale(0.9,1)" class="ax" text-anchor="middle">Reflection (%)</text>
</svg>
</body></html>
